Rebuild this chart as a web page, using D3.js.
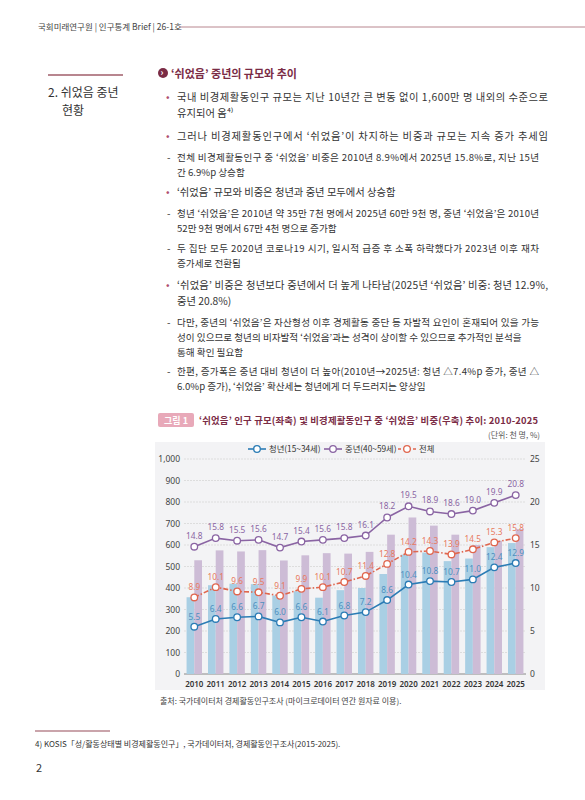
<!DOCTYPE html>
<html><head><meta charset="utf-8">
<script src="https://cdn.jsdelivr.net/npm/d3@7"></script>
<style>body{margin:0;background:#fff;font-family:"Noto Sans CJK KR","Noto Sans",sans-serif}</style>
</head><body><svg id="page" width="585" height="800"></svg>
<script>
const years = ["2010","2011","2012","2013","2014","2015","2016","2017","2018","2019","2020","2021","2022","2023","2024","2025"];
const youthCount = [357,413,420,418,365,385,355,390,400,465,555,565,525,537,590,609];
const midCount = [529,575,570,576,528,552,562,560,568,648,728,690,648,600,620,674];
const youthRate = [5.5,6.4,6.6,6.7,6.0,6.6,6.1,6.8,7.2,8.6,10.4,10.8,10.7,11.0,12.4,12.9];
const midRate = [14.8,15.8,15.5,15.6,14.7,15.4,15.6,15.8,16.1,18.2,19.5,18.9,18.6,19.0,19.9,20.8];
const totalRate = [8.9,10.1,9.6,9.5,9.1,9.9,10.1,10.7,11.4,12.8,14.2,14.3,13.9,14.5,15.3,15.8];
const leftTicks = [0,100,200,300,400,500,600,700,800,900,1000];
const rightTicks = [0,5,10,15,20,25];

const svg = d3.select("#page");
const txt = (x,y,s,o={}) => svg.append("text").attr("x",x).attr("y",y).text(s)
  .attr("font-size",o.size||10.5).attr("fill",o.fill||"#333").attr("font-weight",o.weight||400)
  .attr("text-anchor",o.anchor||"start");

// header
txt(38,30,"국회미래연구원 | 인구통계 Brief | 26-1호",{size:8.5,fill:"#444"});
svg.append("line").attr("x1",180).attr("x2",585).attr("y1",27).attr("y2",27).attr("stroke","#b8868f").attr("stroke-width",1);
svg.append("line").attr("x1",48).attr("x2",123).attr("y1",75).attr("y2",75).attr("stroke","#b8868f").attr("stroke-width",2);
txt(48,97,"2. 쉬었음 중년",{size:12,fill:"#333"});
txt(62,115,"현황",{size:12,fill:"#333"});

svg.append("circle").attr("cx",163).attr("cy",73).attr("r",5).attr("fill","#7a2b45");
txt(160.5,76,"›",{size:9,fill:"#fff",weight:700});
txt(171,78,"‘쉬었음’ 중년의 규모와 추이",{size:11,fill:"#7a2b45",weight:700});

const lines = [
  ["b",101,"국내 비경제활동인구 규모는 지난 10년간 큰 변동 없이 1,600만 명 내외의 수준으로"],
  ["c",117,"유지되어 옴⁴⁾"],
  ["b",140,"그러나 비경제활동인구에서 ‘쉬었음’이 차지하는 비중과 규모는 지속 증가 추세임"],
  ["d",161,"전체 비경제활동인구 중 ‘쉬었음’ 비중은 2010년 8.9%에서 2025년 15.8%로, 지난 15년"],
  ["e",176,"간 6.9%p 상승함"],
  ["b",196,"‘쉬었음’ 규모와 비중은 청년과 중년 모두에서 상승함"],
  ["d",217,"청년 ‘쉬었음’은 2010년 약 35만 7천 명에서 2025년 60만 9천 명, 중년 ‘쉬었음’은 2010년"],
  ["e",232,"52만 9천 명에서 67만 4천 명으로 증가함"],
  ["d",252,"두 집단 모두 2020년 코로나19 시기, 일시적 급증 후 소폭 하락했다가 2023년 이후 재차"],
  ["e",267,"증가세로 전환됨"],
  ["b",289,"‘쉬었음’ 비중은 청년보다 중년에서 더 높게 나타남(2025년 ‘쉬었음’ 비중: 청년 12.9%,"],
  ["c",305,"중년 20.8%)"],
  ["d",326,"다만, 중년의 ‘쉬었음’은 자산형성 이후 경제활동 중단 등 자발적 요인이 혼재되어 있을 가능"],
  ["e",341,"성이 있으므로 청년의 비자발적 ‘쉬었음’과는 성격이 상이할 수 있으므로 추가적인 분석을"],
  ["e",356,"통해 확인 필요함"],
  ["d",375,"한편, 증가폭은 중년 대비 청년이 더 높아(2010년→2025년: 청년 △7.4%p 증가, 중년 △"],
  ["e",390,"6.0%p 증가), ‘쉬었음’ 확산세는 청년에게 더 두드러지는 양상임"]
];
lines.forEach(([k,y,s]) => {
  if (k==="b") { txt(166,y,"•",{fill:"#b05070"}); txt(177,y,s,{size:10.3,fill:"#333"}).attr("textLength",s.length>40?371:null); }
  else if (k==="c") txt(177,y,s,{size:10.3});
  else if (k==="d") { txt(167,y,"-",{size:10}); txt(177,y,s,{size:9.6,fill:"#333"}).attr("textLength",s.length>40?362:null); }
  else txt(177,y,s,{size:9.6});
});

// figure title
svg.append("rect").attr("x",158).attr("y",413).attr("width",36).attr("height",14).attr("rx",2).attr("fill","#e8a9b9");
txt(176,424,"그림 1",{size:9,fill:"#fff",weight:700,anchor:"middle"});
txt(199,424,"‘쉬었음’ 인구 규모(좌축) 및 비경제활동인구 중 ‘쉬었음’ 비중(우축) 추이: 2010-2025",{size:9.4,fill:"#7a2b45",weight:700}).attr("textLength",339);
txt(540,438,"(단위: 천 명, %)",{size:8,fill:"#555",anchor:"end"});

// chart
svg.append("rect").attr("x",155).attr("y",442).attr("width",390).attr("height",248).attr("fill","#f3f3f5");
const x = d3.scaleBand().domain(years).range([184,526]).paddingInner(0.28).paddingOuter(0.12);
const yL = d3.scaleLinear().domain([0,1000]).range([674,459]);
const yR = d3.scaleLinear().domain([0,25]).range([674,459]);
const g = svg.append("g").attr("font-family","'Noto Sans',sans-serif");

g.append("g").selectAll("line").data(leftTicks).join("line")
  .attr("x1",184).attr("x2",526).attr("y1",d=>yL(d)).attr("y2",d=>yL(d))
  .attr("stroke",d=>d===0?"#888":"#ddd").attr("stroke-dasharray",d=>d===0?null:"2,1");
g.append("g").selectAll("text").data(leftTicks).join("text")
  .attr("x",180).attr("y",d=>yL(d)+3).attr("text-anchor","end").attr("font-size",8.5).attr("fill","#444")
  .text(d3.format(","));
g.append("g").selectAll("text").data(rightTicks).join("text")
  .attr("x",530).attr("y",d=>yR(d)+3).attr("font-size",8.5).attr("fill","#444").text(d=>d);
g.append("g").selectAll("text").data(years).join("text")
  .attr("x",d=>x(d)+x.bandwidth()/2).attr("y",687).attr("text-anchor","middle")
  .attr("font-size",8).attr("fill","#333").attr("font-weight",600).text(d=>d);

const bw = x.bandwidth()/2;
g.append("g").selectAll("rect").data(youthCount).join("rect")
  .attr("x",(d,i)=>x(years[i])).attr("width",bw).attr("y",d=>yL(d)).attr("height",d=>674-yL(d)).attr("fill","#a9cfe4");
g.append("g").selectAll("rect").data(midCount).join("rect")
  .attr("x",(d,i)=>x(years[i])+bw).attr("width",bw).attr("y",d=>yL(d)).attr("height",d=>674-yL(d)).attr("fill","#cdbcd6");

const cx = i => x(years[i])+x.bandwidth()/2;
const series = [
  {v:youthRate,c:"#2b7cb5",dash:null,lab:"#4e8fc0",dy:-7},
  {v:midRate,c:"#8a64a3",dash:null,lab:"#8a64a3",dy:-8},
  {v:totalRate,c:"#e0664e",dash:"5,2,1.5,2",lab:"#e87a5e",dy:-7}
];
series.forEach(s => {
  g.append("path").datum(s.v).attr("fill","none").attr("stroke",s.c).attr("stroke-width",1.6)
    .attr("stroke-dasharray",s.dash).attr("d",d3.line().x((d,i)=>cx(i)).y(d=>yR(d)));
  g.append("g").selectAll("circle").data(s.v).join("circle")
    .attr("cx",(d,i)=>cx(i)).attr("cy",d=>yR(d)).attr("r",3.3).attr("fill","#fff").attr("stroke",s.c).attr("stroke-width",1.3);
  g.append("g").selectAll("text").data(s.v).join("text")
    .attr("x",(d,i)=>cx(i)).attr("y",d=>yR(d)+s.dy).attr("text-anchor","middle")
    .attr("font-size",8.3).attr("fill",s.lab).text(d=>d.toFixed(1));
});

// legend
const legend = [["청년(15~34세)","#2b7cb5",null,248],["중년(40~59세)","#8a64a3",null,324],["전체","#e0664e","3,2",398]];
legend.forEach(([t,c,dash,lx]) => {
  g.append("line").attr("x1",lx).attr("x2",lx+18).attr("y1",449).attr("y2",449).attr("stroke",c).attr("stroke-width",1.6).attr("stroke-dasharray",dash);
  g.append("circle").attr("cx",lx+9).attr("cy",449).attr("r",3.3).attr("fill","#fff").attr("stroke",c).attr("stroke-width",1.3);
  svg.append("text").attr("x",lx+21).attr("y",452).attr("font-size",8.3).attr("fill","#333").text(t);
});

txt(160,704,"출처: 국가데이터처 경제활동인구조사 (마이크로데이터 연간 원자료 이용).",{size:8,fill:"#444"});
svg.append("line").attr("x1",35).attr("x2",110).attr("y1",731).attr("y2",731).attr("stroke","#b8868f").attr("stroke-width",1.5);
txt(35,747,"4) KOSIS「성/활동상태별 비경제활동인구」, 국가데이터처, 경제활동인구조사(2015-2025).",{size:8,fill:"#333"});
txt(36,772,"2",{size:11,fill:"#333"});
</script></body></html>
